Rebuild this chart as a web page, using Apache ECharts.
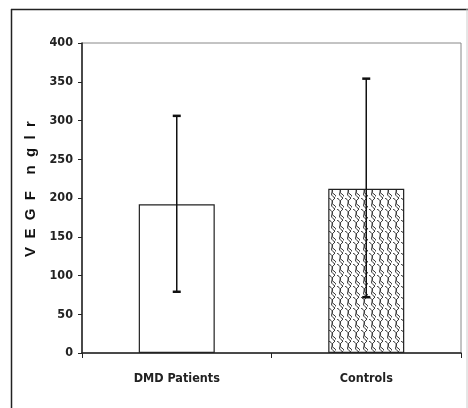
<!DOCTYPE html>
<html>
<head>
<meta charset="utf-8">
<script src="https://cdn.jsdelivr.net/npm/echarts@6/dist/echarts.min.js"></script>
<style>
html,body{margin:0;padding:0;background:#fff;}
#c{width:468px;height:408px;}
</style>
</head>
<body>
<div id="c"></div>
<script>
const categories = ['DMD Patients', 'Controls'];
const means = [192, 212];
const errLow = [79, 72];
const errHigh = [306, 354];
const yTicks = [0, 50, 100, 150, 200, 250, 300, 350, 400];

function makePattern() {
  const c = document.createElement('canvas');
  c.width = 8; c.height = 11;
  const g = c.getContext('2d');
  g.fillStyle = '#fff';
  g.fillRect(0, 0, 8, 11);
  g.strokeStyle = '#333';
  g.lineWidth = 1;
  g.beginPath();
  g.moveTo(1, 0);
  g.quadraticCurveTo(6, 3, 4, 5.5);
  g.quadraticCurveTo(2, 8, 7, 11);
  g.stroke();
  g.beginPath();
  g.moveTo(7, 0);
  g.quadraticCurveTo(3, 3, 4, 5.5);
  g.stroke();
  g.beginPath();
  g.moveTo(4, 5.5);
  g.quadraticCurveTo(8, 8, 9, 11);
  g.stroke();
  return c;
}

const chart = echarts.init(document.getElementById('c'), null, {renderer: 'canvas'});
const font = '"DejaVu Sans Condensed", "Liberation Sans Narrow", "Liberation Sans", Arial, sans-serif';
const barData = means.map((v, i) => ({
  value: v,
  itemStyle: i === 1 ? {color: {image: makePattern(), repeat: 'repeat'}} : {color: '#fff'}
}));
const errData = categories.map((c, i) => [i, errLow[i], errHigh[i]]);

chart.setOption({
  animation: false,
  backgroundColor: '#fff',
  graphic: [
    {type: 'line', shape: {x1: 11, y1: 9.5, x2: 468, y2: 9.5}, style: {stroke: '#222', lineWidth: 1.5}},
    {type: 'line', shape: {x1: 11.5, y1: 9, x2: 11.5, y2: 408}, style: {stroke: '#222', lineWidth: 1.5}},
    {type: 'line', shape: {x1: 467, y1: 9, x2: 467, y2: 408}, style: {stroke: '#ccc', lineWidth: 1}}
  ],
  grid: {left: 82, top: 43, right: 7, bottom: 55, show: true, borderColor: '#888', borderWidth: 1},
  xAxis: {
    type: 'category',
    data: categories,
    axisLine: {lineStyle: {color: '#222', width: 1.5}},
    axisTick: {show: true, length: 5, lineStyle: {color: '#222'}},
    axisLabel: {margin: 19, color: '#222', fontFamily: font, fontWeight: 'bold', fontSize: 12.5}
  },
  yAxis: {
    type: 'value',
    min: yTicks[0], max: yTicks[yTicks.length - 1], interval: 50,
    name: 'V  E  G  F    n  g  l  r',
    nameLocation: 'middle',
    nameGap: 44,
    nameTextStyle: {color: '#111', fontFamily: '"Liberation Sans", Arial, sans-serif', fontWeight: 'bold', fontSize: 15, padding: [0, 0, 0, 18]},
    axisLine: {show: true, lineStyle: {color: '#222', width: 1.5}},
    axisTick: {show: true, length: 4, lineStyle: {color: '#222'}},
    axisLabel: {margin: 9, color: '#222', fontFamily: font, fontWeight: 'bold', fontSize: 12.5},
    splitLine: {show: false}
  },
  series: [{
    type: 'bar',
    data: barData,
    barWidth: 76,
    itemStyle: {borderColor: '#222', borderWidth: 1.2},
    z: 2
  }, {
    type: 'custom',
    data: errData,
    z: 3,
    renderItem: function (params, api) {
      const x = api.coord([api.value(0), 0])[0];
      const lo = api.coord([api.value(0), api.value(1)])[1];
      const hi = api.coord([api.value(0), api.value(2)])[1];
      const w = 4;
      return {type: 'group', children: [
        {type: 'line', shape: {x1: x, y1: lo, x2: x, y2: hi}, style: {stroke: '#111', lineWidth: 1.5}},
        {type: 'line', shape: {x1: x - w, y1: hi, x2: x + w, y2: hi}, style: {stroke: '#111', lineWidth: 2.5}},
        {type: 'line', shape: {x1: x - w, y1: lo, x2: x + w, y2: lo}, style: {stroke: '#111', lineWidth: 2.5}}
      ]};
    }
  }]
});
</script>
</body>
</html>
